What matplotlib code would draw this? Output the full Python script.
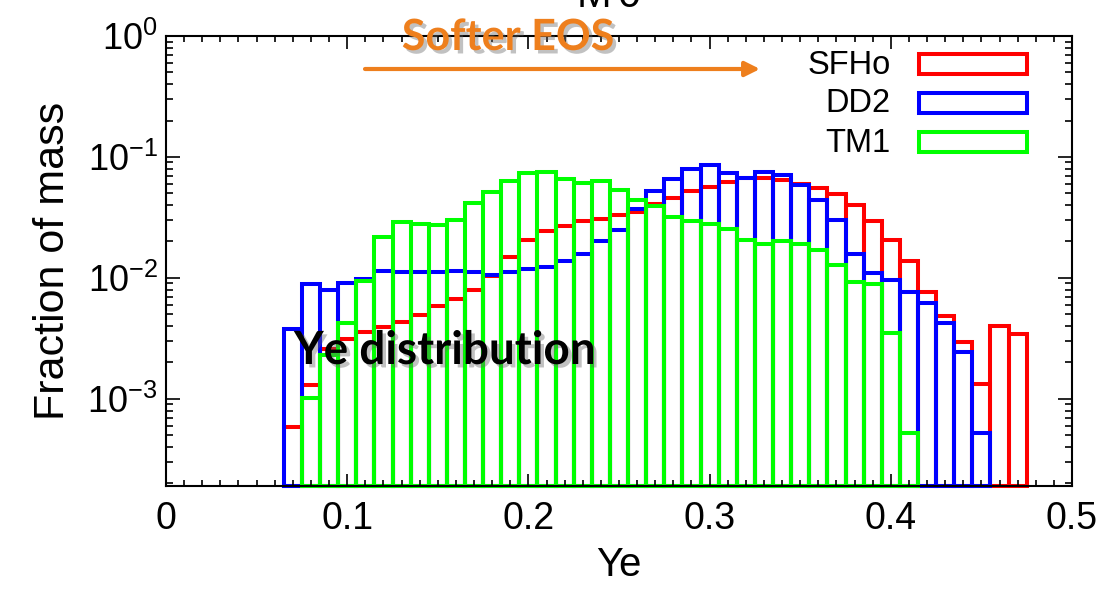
import numpy as np
import matplotlib
matplotlib.use("Agg")
import matplotlib.pyplot as plt
import matplotlib.patheffects as pe
from matplotlib.patches import Rectangle
from matplotlib.ticker import MultipleLocator, LogLocator

plt.rcParams["font.family"] = ["Liberation Sans", "DejaVu Sans"]
plt.rcParams["mathtext.default"] = "regular"

# Ye bin centres (bin width 0.01)
ye_sfho = [0.07, 0.08, 0.09, 0.10, 0.11, 0.12, 0.13, 0.14, 0.15, 0.16,
           0.17, 0.18, 0.19, 0.20, 0.21, 0.22, 0.23, 0.24, 0.25, 0.26,
           0.27, 0.28, 0.29, 0.30, 0.31, 0.32, 0.33, 0.34, 0.35, 0.36,
           0.37, 0.38, 0.39, 0.40, 0.41, 0.42, 0.43, 0.44, 0.45, 0.46, 0.47]
ye_dd2 = ye_sfho[:39]
ye_tm1 = ye_sfho[1:35]

# mass fractions per bin
mass_sfho = [5.8e-4, 1.31e-3, 2.6e-3, 3.15e-3, 3.55e-3, 3.9e-3, 4.3e-3, 4.95e-3, 5.9e-3, 6.7e-3,
             8.0e-3, 1.03e-2, 1.50e-2, 2.04e-2, 2.46e-2, 2.69e-2, 2.96e-2, 3.08e-2, 3.31e-2, 3.53e-2,
             4.1e-2, 4.61e-2, 5.25e-2, 5.61e-2, 6.25e-2, 6.75e-2, 6.75e-2, 6.5e-2, 5.92e-2, 5.5e-2,
             4.93e-2, 3.98e-2, 2.97e-2, 2.05e-2, 1.38e-2, 7.7e-3, 4.85e-3, 2.94e-3, 1.32e-3, 4.03e-3, 3.44e-3]
mass_dd2 = [3.75e-3, 8.9e-3, 8.0e-3, 9.1e-3, 9.8e-3, 1.15e-2, 1.11e-2, 1.11e-2, 1.11e-2, 1.13e-2,
            1.12e-2, 1.06e-2, 1.11e-2, 1.18e-2, 1.24e-2, 1.38e-2, 1.57e-2, 2.0e-2, 2.48e-2, 3.69e-2,
            5.2e-2, 6.6e-2, 7.95e-2, 8.5e-2, 7.3e-2, 6.72e-2, 7.46e-2, 7.15e-2, 5.85e-2, 4.43e-2,
            2.99e-2, 1.59e-2, 1.1e-2, 9.55e-3, 7.65e-3, 6.15e-3, 4.25e-3, 2.42e-3, 5.2e-4]
mass_tm1 = [1.01e-3, 2.3e-3, 4.25e-3, 9.4e-3, 2.17e-2, 2.88e-2, 2.79e-2, 2.74e-2, 3.01e-2, 4.12e-2,
            5.12e-2, 6.3e-2, 7.38e-2, 7.47e-2, 6.55e-2, 6.1e-2, 6.3e-2, 5.3e-2, 4.44e-2, 3.9e-2,
            3.19e-2, 2.95e-2, 2.81e-2, 2.55e-2, 2.05e-2, 1.9e-2, 2.0e-2, 1.92e-2, 1.69e-2, 1.28e-2,
            9.2e-3, 8.85e-3, 3.53e-3, 5.2e-4]

series = [("SFHo", ye_sfho, mass_sfho, "#ff0000"),
          ("DD2", ye_dd2, mass_dd2, "#0000ff"),
          ("TM1", ye_tm1, mass_tm1, "#00ff00")]

W, H = 1098, 589
fig = plt.figure(figsize=(W / 100, H / 100), dpi=100)
ax = fig.add_axes([166 / W, 1 - 486 / H, (1072 - 166) / W, (486 - 36) / H])

y_min, y_max = 1.9e-4, 1.0
bin_w = 0.01
lw = 2.9

for z, (name, ye, mass, col) in enumerate(series):
    mass = np.asarray(mass)
    ax.bar(ye, mass - y_min, bottom=y_min, width=bin_w, fill=False,
           edgecolor=col, linewidth=lw, joinstyle="miter", zorder=1 + z * 0.1,
           clip_on=False)

ax.set_yscale("log")
ax.set_xlim(0, 0.5)
ax.set_ylim(y_min, y_max)

ax.xaxis.set_minor_locator(MultipleLocator(0.01))
ax.set_xticks([0, 0.1, 0.2, 0.3, 0.4, 0.5])
ax.set_xticklabels(["0", "0.1", "0.2", "0.3", "0.4", "0.5"])
ax.yaxis.set_major_locator(LogLocator(base=10, numticks=10))
ax.yaxis.set_minor_locator(LogLocator(base=10, subs=np.arange(2, 10), numticks=20))

ax.tick_params(which="both", direction="in", top=True, right=True, width=1.2, color="k")
ax.tick_params(axis="x", which="major", length=9, labelsize=27, pad=11)
ax.tick_params(axis="x", which="minor", length=4.5)
ax.tick_params(axis="y", which="major", length=10, labelsize=26, pad=6)
ax.tick_params(axis="y", which="minor", length=5)
for sp in ax.spines.values():
    sp.set_linewidth(1.5)

ax.set_xlabel("Ye", fontsize=29, labelpad=6)
ax.set_ylabel("Fraction of mass", fontsize=31, labelpad=10)

# key: label text right-aligned next to outlined boxes
key_rows = [("SFHo", "#ff0000", 64), ("DD2", "#0000ff", 103), ("TM1", "#00ff00", 142)]
for label, col, yc in key_rows:
    fig.text(891 / W, 1 - (yc + 1) / H, label, fontsize=23.5, ha="right", va="center")
    fig.patches.append(Rectangle((919 / W, 1 - (yc + 10) / H), 108 / W, 20 / H,
                                 transform=fig.transFigure, fill=False,
                                 edgecolor=col, linewidth=lw, joinstyle="miter"))

# heading above the frame, mostly outside the canvas
fig.text(577 / W, 1 - 7 / H, "M", fontsize=30, ha="left", va="baseline")
fig.text(617 / W, 1 - 7 / H, "0", fontsize=30, ha="left", va="baseline")

orange = "#ee7f1d"
shadow = [pe.withSimplePatchShadow(offset=(2.5, -2.5), shadow_rgbFace="#666666", alpha=0.4)]

fig.text(508 / W, 1 - 37 / H, "Softer EOS", fontsize=31, fontweight="bold",
         family="Lato", color=orange, ha="center", va="center", path_effects=shadow)
ax.annotate("", xy=(760 / W, 1 - 69 / H), xytext=(365 / W, 1 - 69 / H),
            xycoords="figure fraction", textcoords="figure fraction",
            arrowprops=dict(arrowstyle="-|>", color=orange, lw=3, mutation_scale=22,
                            shrinkA=0, shrinkB=0))

fig.text(445 / W, 1 - 351 / H, "Ye distribution", fontsize=33, fontweight="bold",
         family="Lato", color="black", ha="center", va="center", path_effects=shadow)

fig.savefig("out.png", dpi=100)
